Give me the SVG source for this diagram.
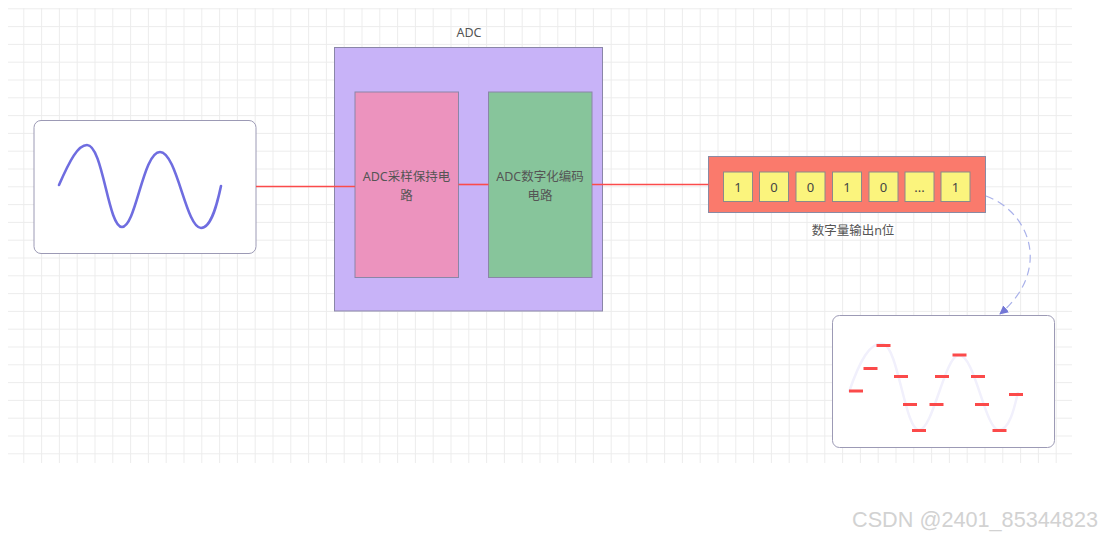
<svg xmlns="http://www.w3.org/2000/svg" width="1106" height="539" viewBox="0 0 1106 539">
  <defs>
    <pattern id="grid" patternUnits="userSpaceOnUse" x="23.3" y="8.3" width="17.8" height="17.8">
      <path d="M0.5 0 V17.8 M0 0.5 H17.8" fill="none" stroke="#ececec" stroke-width="1"/>
    </pattern>
    <marker id="arr" viewBox="0 0 10 10" refX="9" refY="5" markerWidth="9" markerHeight="9" orient="auto" markerUnits="userSpaceOnUse">
      <path d="M0 0 L10 5 L0 10 Z" fill="#7377d6"/>
    </marker>
    <style>
      .t { font-family: "Noto Sans", "Noto Sans CJK SC", sans-serif; fill: #555; font-size: 12.5px; text-anchor: middle; }
      .box { stroke: #8a86a8; stroke-width: 1; }
      .cell { fill: #fbf47d; stroke: #8a8a8a; stroke-width: 1; }
      .num { font-family: "Noto Sans", sans-serif; fill: #444; font-size: 13px; text-anchor: middle; }
      .wire { stroke: #fb4b4b; stroke-width: 1.6; fill: none; }
      .q { fill: #fb4a4a; }
    </style>
  </defs>
  <rect width="1106" height="539" fill="#ffffff"/>
  <rect x="8" y="8" width="1064" height="455" fill="url(#grid)"/>

  <g id="analog-input">
    <rect x="34" y="120.5" width="222" height="133" rx="7" fill="#ffffff" stroke="#9c9ab5" stroke-width="1"/>
    <path d="M59 185 C70 160, 78 145, 87 145 C103 145, 108 227, 122 227 C136 227, 143 152, 160 152 C177 152, 186 228, 201 228 C212 228, 218 200, 221 186" fill="none" stroke="#6f6de0" stroke-width="2.6" stroke-linecap="round"/>
  </g>

  <g id="adc">
    <text class="t" x="469" y="37" font-size="12px">ADC</text>
    <rect class="box" x="334.5" y="47.5" width="268" height="263.5" fill="#c8b3f8"/>
  </g>

  <g id="sample-hold">
    <rect class="box" x="355" y="92" width="103.5" height="185.5" fill="#ec93be"/>
    <text class="t" x="406.5" y="181">ADC采样保持电</text>
    <text class="t" x="406.5" y="200">路</text>
  </g>

  <g id="encoder">
    <rect class="box" x="488.5" y="92" width="103.5" height="185.5" fill="#87c59b"/>
    <text class="t" x="540" y="181">ADC数字化编码</text>
    <text class="t" x="540" y="200">电路</text>
  </g>

  <g id="digital-output">
    <rect x="708.5" y="156.5" width="277" height="56" fill="#fa7a6c" stroke="#8a8aa3" stroke-width="1"/>
    <rect class="cell" x="723.5" y="172" width="29" height="29.5"/>
    <rect class="cell" x="759.5" y="172" width="29" height="29.5"/>
    <rect class="cell" x="796" y="172" width="29" height="29.5"/>
    <rect class="cell" x="832.5" y="172" width="29" height="29.5"/>
    <rect class="cell" x="869" y="172" width="29" height="29.5"/>
    <rect class="cell" x="905" y="172" width="29" height="29.5"/>
    <rect class="cell" x="941" y="172" width="29" height="29.5"/>
    <text class="num" x="738" y="191.5">1</text>
    <text class="num" x="774" y="191.5">0</text>
    <text class="num" x="810.5" y="191.5">0</text>
    <text class="num" x="847" y="191.5">1</text>
    <text class="num" x="883.5" y="191.5">0</text>
    <text class="num" x="919.5" y="191.5">...</text>
    <text class="num" x="955.5" y="191.5">1</text>
    <text class="t" x="853" y="234.5">数字量输出n位</text>
  </g>

  <g id="quantized-output">
    <rect x="832.5" y="315.5" width="222" height="132" rx="7" fill="#ffffff" stroke="#9c9ab5" stroke-width="1"/>
    <path d="M849 392 C860 360, 870 342, 883 344 C898 346, 905 430, 919 430 C933 430, 945 355, 959 355 C975 355, 985 430, 999 430 C1010 430, 1015 405, 1018 392" fill="none" stroke="#f1f0fc" stroke-width="2.5"/>
    <rect class="q" x="849" y="389.5" width="14" height="3"/>
    <rect class="q" x="863.5" y="367" width="14" height="3"/>
    <rect class="q" x="876.5" y="344" width="14" height="3"/>
    <rect class="q" x="894" y="375" width="14" height="3"/>
    <rect class="q" x="903" y="403" width="14" height="3"/>
    <rect class="q" x="912" y="429" width="14" height="3"/>
    <rect class="q" x="929.5" y="403" width="14" height="3"/>
    <rect class="q" x="935" y="375" width="14" height="3"/>
    <rect class="q" x="952.5" y="353.5" width="14" height="3"/>
    <rect class="q" x="971" y="375" width="14" height="3"/>
    <rect class="q" x="975" y="403" width="14" height="3"/>
    <rect class="q" x="992.5" y="429" width="14" height="3"/>
    <rect class="q" x="1009" y="393" width="14" height="3"/>
  </g>

  <g id="connectors">
    <line class="wire" x1="256" y1="186.5" x2="355" y2="186.5"/>
    <line class="wire" x1="458.5" y1="184.5" x2="488.5" y2="184.5"/>
    <line class="wire" x1="592" y1="184.5" x2="708.5" y2="184.5"/>
    <path d="M986 196 C1030 212, 1052 270, 1000 314" fill="none" stroke="#a9b1ea" stroke-width="1.2" stroke-dasharray="8 5" marker-end="url(#arr)"/>
  </g>

  <text x="852" y="527" font-family="Liberation Sans, sans-serif" font-size="22" fill="#d2d2d2" textLength="246" lengthAdjust="spacingAndGlyphs">CSDN @2401_85344823</text>
</svg>
